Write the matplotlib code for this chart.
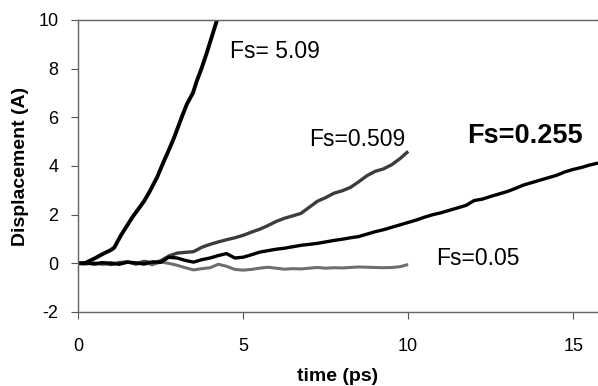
import matplotlib
matplotlib.use("Agg")
import matplotlib.pyplot as plt

plt.rcParams['font.family'] = ['Liberation Sans', 'DejaVu Sans']
plt.rcParams['axes.unicode_minus'] = False

# Fs = 5.09
t_509 = [0, 0.2, 0.5, 0.8, 1.0, 1.1, 1.3, 1.66, 2.0, 2.17, 2.4, 2.57, 2.75,
         2.92, 3.14, 3.3, 3.48, 3.6, 3.74, 3.9, 4.05, 4.21]
d_509 = [0, 0, 0.2, 0.42, 0.55, 0.65, 1.15, 1.92, 2.55, 2.95, 3.55, 4.1, 4.65,
         5.2, 6.0, 6.55, 7.0, 7.5, 8.0, 8.65, 9.3, 10.0]

# Fs = 0.509
t_0509 = [i * 0.25 for i in range(41)]
d_0509 = [0, 0.02, -0.03, 0.01, -0.05, 0.03, 0.06, -0.02, 0.08, 0.02, 0.10,
          0.30, 0.42, 0.45, 0.48, 0.66, 0.78, 0.88, 0.97, 1.05, 1.15,
          1.28, 1.40, 1.55, 1.72, 1.85, 1.95, 2.05, 2.30, 2.55, 2.70,
          2.88, 2.98, 3.12, 3.35, 3.60, 3.78, 3.88, 4.05, 4.30, 4.60]

# Fs = 0.255
t_0255 = [i * 0.25 for i in range(64)]
d_0255 = [0, 0.01, -0.02, 0.03, 0.0, -0.04, 0.05, 0.02, -0.03, 0.06, 0.04,
          0.25, 0.22, 0.12, 0.05, 0.15, 0.22, 0.32, 0.40, 0.22, 0.25,
          0.35, 0.46, 0.52, 0.58, 0.62, 0.68, 0.74, 0.78, 0.82, 0.88,
          0.94, 0.99, 1.05, 1.10, 1.20, 1.30, 1.38, 1.48, 1.58, 1.68,
          1.78, 1.90, 2.00, 2.08, 2.18, 2.28, 2.38, 2.58, 2.64, 2.75,
          2.85, 2.95, 3.08, 3.22, 3.32, 3.42, 3.52, 3.62, 3.76, 3.86,
          3.94, 4.04, 4.12]

# Fs = 0.05
t_005 = [i * 0.25 for i in range(41)]
d_005 = [0, -0.03, 0.02, -0.05, 0.03, -0.02, 0.06, -0.04, 0.04, -0.06, 0.05,
         0.0, -0.08, -0.18, -0.27, -0.22, -0.18, -0.04, -0.12, -0.25, -0.28,
         -0.25, -0.20, -0.16, -0.20, -0.24, -0.22, -0.23, -0.20, -0.17, -0.20,
         -0.18, -0.19, -0.17, -0.15, -0.16, -0.17, -0.18, -0.17, -0.14, -0.05]

x_ticks = [0, 5, 10, 15]
y_ticks = [-2, 0, 2, 4, 6, 8, 10]

fig = plt.figure(figsize=(5.98, 3.86), dpi=100)
ax = fig.add_axes([78 / 598, (386 - 312) / 386, 520 / 598, 292 / 386])

ax.plot(t_005, d_005, color='#6e6e6e', lw=2.2, solid_capstyle='butt')
ax.plot(t_0509, d_0509, color='#3c3c3c', lw=2.4, solid_capstyle='butt')
ax.plot(t_0255, d_0255, color='black', lw=2.4, solid_capstyle='butt')
ax.plot(t_509, d_509, color='black', lw=2.8, solid_capstyle='butt')

ax.set_xlim(0, 15.75)
ax.set_ylim(-2, 10)
ax.set_xticks(x_ticks)
ax.set_yticks(y_ticks)
ax.tick_params(axis='both', direction='out', length=5, width=0.8,
               color='#555555', labelsize=13)
ax.tick_params(axis='x', pad=14)
ax.tick_params(axis='y', pad=9)

for side in ('top', 'bottom', 'left'):
    ax.spines[side].set_color('#666666')
    ax.spines[side].set_linewidth(1.0)
    ax.spines[side].set_linestyle((0, (1.5, 0.7)))
ax.spines['right'].set_visible(False)

ax.set_xlabel('time (ps)', fontsize=14, fontweight='bold', labelpad=9)
ax.set_ylabel('Displacement (A)', fontsize=14, fontweight='bold', labelpad=7)

ax.text(4.6, 8.69, 'Fs= 5.09', fontsize=16.5, ha='left', va='center')
ax.text(6.99, 5.08, 'Fs=0.509', fontsize=16.5, ha='left', va='center')
ax.text(11.8, 5.24, 'Fs=0.255', fontsize=19.5, fontweight='bold',
        ha='left', va='center')
ax.text(10.85, 0.21, 'Fs=0.05', fontsize=16.5, ha='left', va='center')

fig.savefig('out.png', dpi=100)
